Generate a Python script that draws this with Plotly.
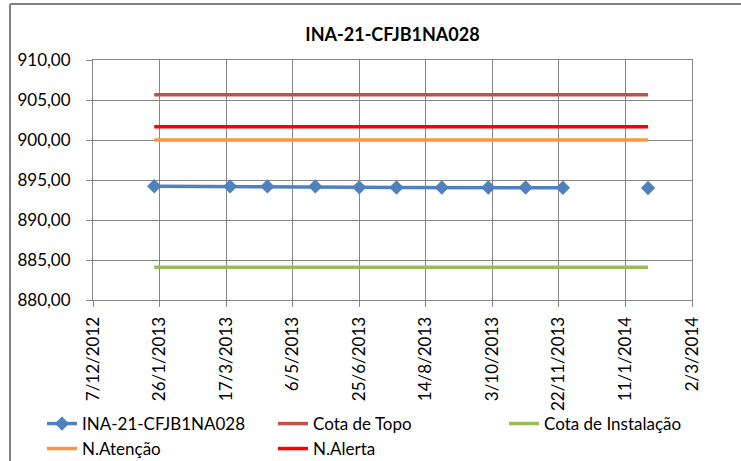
import plotly.graph_objects as go

# ---- data ----
dates = ["2013-01-22", "2013-03-20", "2013-04-17", "2013-05-23", "2013-06-25",
         "2013-07-23", "2013-08-26", "2013-09-30", "2013-10-28", "2013-11-25",
         "2013-12-27", "2014-01-28"]
ina_values = [894.22, 894.20, 894.20, 894.20, 894.08, 894.06, 894.06, 894.06,
              894.06, 894.03, None, 894.00]
cota_topo = 905.65
cota_instalacao = 884.10
n_atencao = 900.00
n_alerta = 901.65

x_tick_start = "2012-12-07"
x_range = ["2012-12-07", "2014-03-02"]
y_range = [880, 910]

FONT = "Lato"
PLOT_L, PLOT_T, PLOT_W, PLOT_H = 93, 60, 599, 240


def xp(px):
    return (px - PLOT_L) / PLOT_W


def yp(py):
    return (PLOT_T + PLOT_H - py) / PLOT_H


fig = go.Figure()

fig.add_trace(go.Scatter(
    x=dates, y=ina_values, name="INA-21-CFJB1NA028", mode="lines+markers",
    line=dict(color="#4F81BD", width=3.5), marker=dict(symbol="diamond", size=11, color="#4F81BD"),
    connectgaps=False, legend="legend"))
fig.add_trace(go.Scatter(
    x=dates, y=[cota_topo] * len(dates), name="Cota de Topo", mode="lines",
    line=dict(color="#C0504D", width=3.5), legend="legend"))
fig.add_trace(go.Scatter(
    x=dates, y=[cota_instalacao] * len(dates), name="Cota de Instalação", mode="lines",
    line=dict(color="#9BBB59", width=3.5), legend="legend"))
fig.add_trace(go.Scatter(
    x=dates, y=[n_atencao] * len(dates), name="N.Atenção", mode="lines",
    line=dict(color="#F79646", width=3.5), legend="legend2"))
fig.add_trace(go.Scatter(
    x=dates, y=[n_alerta] * len(dates), name="N.Alerta", mode="lines",
    line=dict(color="#FF0000", width=3.5), legend="legend2"))

legend_common = dict(orientation="h", xref="paper", yref="paper", xanchor="left", yanchor="middle",
                     entrywidth=186, entrywidthmode="pixels", bgcolor="rgba(0,0,0,0)",
                     font=dict(family=FONT, size=17, color="#000000"), traceorder="normal")

fig.update_layout(
    template="none",
    width=741, height=461,
    margin=dict(l=PLOT_L, r=741 - PLOT_L - PLOT_W, t=PLOT_T, b=461 - PLOT_T - PLOT_H, pad=0,
                autoexpand=False),
    paper_bgcolor="white", plot_bgcolor="white",
    separators=",.",
    font=dict(family=FONT, size=17, color="#000000"),
    title=dict(text="<b>INA-21-CFJB1NA028</b>", x=0.5, xref="paper", xanchor="center",
               y=1 - 35 / 461, yref="container", yanchor="middle", automargin=False,
               font=dict(family=FONT, size=18, color="#000000")),
    showlegend=True,
    legend=dict(x=xp(42), y=yp(424), **legend_common),
    legend2=dict(x=xp(42), y=yp(449), **legend_common),
    xaxis=dict(type="date", range=x_range, tick0=x_tick_start, dtick=50 * 86400000,
               tickformat="%-d/%-m/%Y", tickangle=-90, ticks="outside", ticklen=6,
               tickcolor="#868686", showline=True, linecolor="#868686", linewidth=1, mirror=True,
               showgrid=True, gridcolor="#868686", gridwidth=1, zeroline=False, automargin=False,
               tickfont=dict(family=FONT, size=17, color="#000000"), ticklabelstandoff=3),
    yaxis=dict(range=y_range, dtick=5, tick0=880, tickformat=".2f", ticks="outside", ticklen=6,
               tickcolor="#868686", showline=True, linecolor="#868686", linewidth=1, mirror=True,
               showgrid=True, gridcolor="#868686", gridwidth=1, zeroline=False, automargin=False,
               tickfont=dict(family=FONT, size=17, color="#000000"), ticklabelstandoff=12),
    shapes=[
        dict(type="line", xref="paper", yref="paper", x0=xp(10), x1=xp(10), y0=yp(4), y1=yp(470),
             line=dict(color="#7F7F7F", width=2)),
        dict(type="line", xref="paper", yref="paper", x0=xp(10), x1=xp(750), y0=yp(4), y1=yp(4),
             line=dict(color="#7F7F7F", width=2)),
    ],
)

fig.write_html("out.html", config={"displayModeBar": False},
               post_script="document.body.style.margin='0px';")
